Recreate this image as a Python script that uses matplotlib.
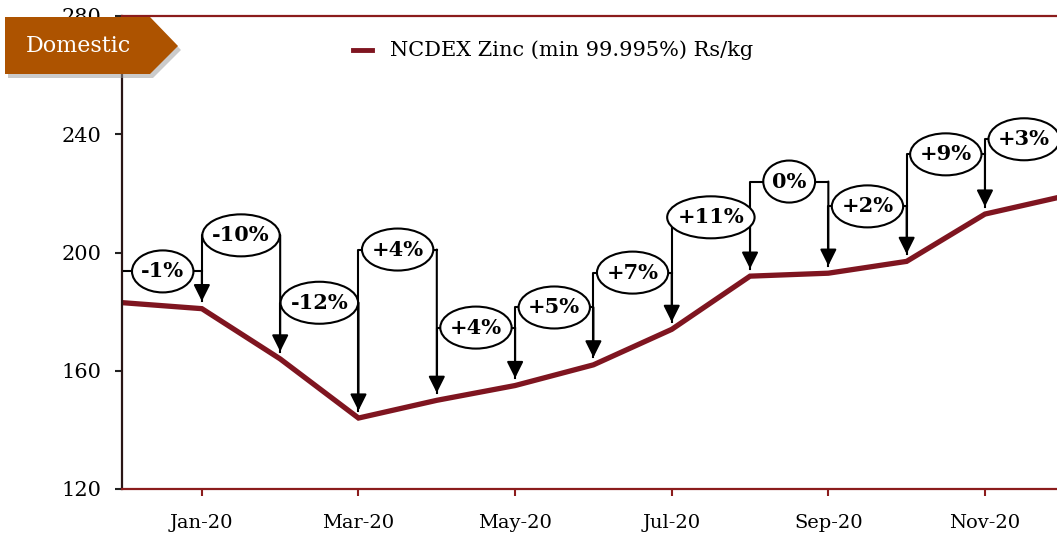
import matplotlib

matplotlib.use("Agg")

import matplotlib.pyplot as plt
from matplotlib.patches import Ellipse, Polygon

plt.rcParams["font.family"] = ["DejaVu Serif"]

# monthly NCDEX zinc price, Rs/kg
months = ["Dec-19", "Jan-20", "Feb-20", "Mar-20", "Apr-20", "May-20", "Jun-20",
          "Jul-20", "Aug-20", "Sep-20", "Oct-20", "Nov-20", "Dec-20"]
price = [183, 181, 164, 144, 150, 155, 162, 174, 192, 193, 197, 213, 219]
changes = ["-1%", "-10%", "-12%", "+4%", "+4%", "+5%", "+7%",
           "+11%", "0%", "+2%", "+9%", "+3%"]
yticks = [120, 160, 200, 240, 280]

# height of each callout bubble (layout only)
bubble_y = [193.6, 205.8, 183, 201, 174.6, 181.4, 193.2, 211.9, 224, 215.6, 233.2, 238.3]

LINE = "#7f1520"
SPINE = "#8b1c1c"
W, H = 1057, 540

fig = plt.figure(figsize=(W / 100, H / 100), dpi=100)
ax = fig.add_axes([122 / W, 1 - 489 / H, 1 - 122 / W, (489 - 16) / H])

x = list(range(len(months)))
ax.plot(x, price, color=LINE, lw=3.8, solid_joinstyle="miter", zorder=2)

ax.set_xlim(-0.02, 11.92)
ax.set_ylim(120, 280)
ax.set_yticks(yticks)
ax.set_xticks(x[1::2])
ax.set_xticklabels(months[1::2], fontsize=14)
ax.tick_params(axis="y", length=5, width=1.5, color="#222", labelsize=15, pad=10)
ax.tick_params(axis="x", length=5, width=1.5, color=SPINE, pad=13)

ax.spines["right"].set_visible(False)
ax.spines["left"].set_color("#2a1515")
ax.spines["left"].set_linewidth(1.6)
for side in ("top", "bottom"):
    ax.spines[side].set_color(SPINE)
    ax.spines[side].set_linewidth(1.6)

# callouts: bracket from previous month, bubble in the middle, arrow down
gap = 2.5
texts = []
for i, lab in enumerate(changes):
    x0, x1, lvl = x[i], x[i + 1], bubble_y[i]
    low = lvl if i == 0 else price[i] + gap
    ax.plot([x0, x0, x1], [low, lvl, lvl], color="black", lw=1.5, zorder=3)
    ax.annotate("", xy=(x1, price[i + 1] + gap), xytext=(x1, lvl),
                arrowprops=dict(arrowstyle="-|>", color="black", lw=1.5,
                                mutation_scale=25, shrinkA=0, shrinkB=0),
                zorder=3)
    t = ax.text((x0 + x1) / 2, lvl, lab, ha="center", va="center", fontsize=15,
                fontweight="bold", zorder=6)
    texts.append(t)

fig.canvas.draw()
r = fig.canvas.get_renderer()
p0 = ax.transData.transform((0, 0))
p1 = ax.transData.transform((1, 1))
sx, sy = p1[0] - p0[0], p1[1] - p0[1]
for t in texts:
    w = t.get_window_extent(r).width
    e = Ellipse(t.get_position(), (w * 1.1 + 14) / sx, 42 / sy, fc="white",
                ec="black", lw=1.5, zorder=5)
    ax.add_patch(e)

# legend
fig.add_artist(plt.Line2D([353 / W, 372 / W], [1 - 50 / H] * 2, color=LINE, lw=3.5))
fig.text(390 / W, 1 - 50 / H, "NCDEX Zinc (min 99.995%) Rs/kg", fontsize=15,
         va="center", ha="left")


# "Domestic" tag
def px(pts):
    return [(a / W, 1 - b / H) for a, b in pts]


tag = [(5, 17), (150, 17), (178, 46), (150, 74), (5, 74)]
shadow = [(a + 3, b + 4) for a, b in tag]
fig.add_artist(Polygon(px(shadow), closed=True, fc="#999999", ec="none", alpha=0.5,
                       transform=fig.transFigure, zorder=9))
fig.add_artist(Polygon(px(tag), closed=True, fc="#ad5300", ec="none",
                       transform=fig.transFigure, zorder=10))
fig.text(78 / W, 1 - 46 / H, "Domestic", color="white", fontsize=16, ha="center",
         va="center", zorder=11)

fig.savefig("out.png", dpi=100)
